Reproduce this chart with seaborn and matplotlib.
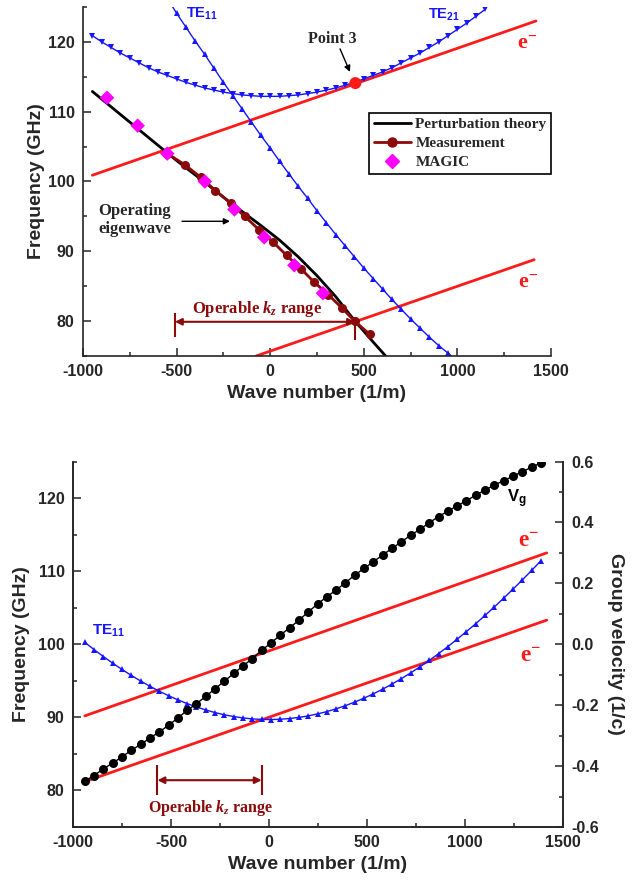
import seaborn as sns
import matplotlib.pyplot as plt
import pandas as pd
import numpy as np
from matplotlib.lines import Line2D
from matplotlib.ticker import AutoMinorLocator, MultipleLocator

# ---------------- top panel data ----------------
te11_top_k = [-530, -500, -450, -400, -350, -300, -250, -200, -150, -100, -50, 0,
              50, 100, 150, 200, 250, 300, 350, 400, 450, 500, 550, 600, 650, 700,
              750, 800, 850, 900, 950, 1000]
te11_top_f = [125.4, 124.1, 122.1, 120.1, 118.2, 116.2, 114.2, 112.3, 110.4, 108.5,
              106.6, 104.8, 102.9, 101.1, 99.3, 97.6, 95.8, 94.1, 92.4, 90.8, 89.2,
              87.6, 86.1, 84.6, 83.1, 81.7, 80.3, 79.0, 77.7, 76.5, 75.4, 74.3]

te21_k = [-950, -900, -850, -800, -750, -700, -650, -600, -550, -500, -450, -400,
          -350, -300, -250, -200, -150, -100, -50, 0, 50, 100, 150, 200, 250, 300,
          350, 400, 450, 500, 550, 600, 650, 700, 750, 800, 850, 900, 950, 1000,
          1050, 1100, 1150]
te21_f = [120.9, 120.0, 119.2, 118.4, 117.7, 117.0, 116.3, 115.7, 115.2, 114.7,
          114.2, 113.8, 113.4, 113.1, 112.8, 112.6, 112.4, 112.3, 112.2, 112.2,
          112.2, 112.3, 112.4, 112.6, 112.8, 113.1, 113.4, 113.8, 114.2, 114.7,
          115.2, 115.7, 116.3, 117.0, 117.7, 118.4, 119.2, 120.0, 120.9, 121.8,
          122.7, 123.7, 124.7]

pert_k = [-950, -800, -650, -500, -350, -200, -50, 50, 150, 250, 350, 450, 550, 650]
pert_f = [112.9, 109.6, 106.3, 103.0, 99.9, 96.7, 93.7, 91.6, 89.2, 86.5, 83.5,
          80.1, 77.0, 74.0]

meas_k = [-550, -456, -371, -293, -212, -136, -60, 16, 88, 164, 234, 310, 382, 451, 532]
meas_f = [104.0, 102.4, 100.6, 98.7, 96.9, 95.0, 93.1, 91.3, 89.4, 87.5, 85.6,
          83.8, 81.9, 80.0, 78.1]

magic_k = [-872, -708, -550, -349, -191, -32, 129, 282]
magic_f = [112, 108, 104, 100, 96, 92, 88, 84]

beam_hi_top_k = [-950, 1420]
beam_hi_top_f = [100.9, 123.0]
beam_lo_top_k = [-75, 1410]
beam_lo_top_f = [75.0, 88.8]

point3_k = [455]
point3_f = [114.1]

# ---------------- bottom panel data ----------------
kb = [-940, -892.5, -845, -797.5, -750, -702.5, -655, -607.5, -560, -512.5,
      -465, -417.5, -370, -322.5, -275, -227.5, -180, -132.5, -85, -37.5,
      10, 57.5, 105, 152.5, 200, 247.5, 295, 342.5, 390, 437.5,
      485, 532.5, 580, 627.5, 675, 722.5, 770, 817.5, 865, 912.5,
      960, 1007.5, 1055, 1102.5, 1150, 1197.5, 1245, 1292.5, 1340, 1387.5]
vg = [-0.449, -0.431, -0.409, -0.390, -0.370, -0.348, -0.329, -0.308, -0.288, -0.266,
      -0.242, -0.217, -0.195, -0.171, -0.146, -0.121, -0.096, -0.071, -0.047, -0.020,
      0.004, 0.030, 0.054, 0.079, 0.106, 0.132, 0.156, 0.178, 0.202, 0.227,
      0.249, 0.271, 0.293, 0.315, 0.336, 0.358, 0.377, 0.399, 0.419, 0.437,
      0.455, 0.471, 0.490, 0.506, 0.523, 0.537, 0.552, 0.567, 0.581, 0.596]
te11_bot_f = [100.26, 99.27, 98.32, 97.41, 96.55, 95.74, 94.97, 94.25, 93.58, 92.96,
              92.40, 91.88, 91.42, 91.01, 90.65, 90.35, 90.11, 89.92, 89.79, 89.72,
              89.70, 89.74, 89.84, 89.99, 90.20, 90.47, 90.79, 91.17, 91.60, 92.09,
              92.63, 93.22, 93.86, 94.55, 95.29, 96.08, 96.91, 97.79, 98.71, 99.68,
              100.69, 101.74, 102.82, 103.95, 105.11, 106.31, 107.54, 108.80, 110.10, 111.43]

beam_hi_bot_k = [-940, 1417]
beam_hi_bot_f = [90.2, 112.5]
beam_lo_bot_k = [-940, 1417]
beam_lo_bot_f = [81.2, 103.3]

# ---------------- style ----------------
sns.set_style('ticks')
plt.rcParams['font.family'] = ['Liberation Sans', 'DejaVu Sans']
plt.rcParams['font.weight'] = 'bold'
plt.rcParams['axes.labelweight'] = 'bold'
plt.rcParams['axes.unicode_minus'] = False
plt.rcParams['mathtext.fontset'] = 'custom'
plt.rcParams['mathtext.it'] = 'Liberation Serif:italic:bold'
plt.rcParams['mathtext.default'] = 'regular'
plt.rcParams['xtick.direction'] = 'in'
plt.rcParams['ytick.direction'] = 'in'

BLUE = '#1515ff'
RED = '#ff1a1a'
MAROON = '#8b0a0a'
MAGENTA = '#ff00ff'
SERIF = 'Liberation Serif'

fig = plt.figure(figsize=(6.41, 8.86), dpi=100)
ax = fig.add_axes([0.1295, 0.5982, 0.7301, 0.3939])
axb = fig.add_axes([0.1139, 0.0666, 0.7644, 0.4125])


def line(ax, k, f, color, lw=1.0, marker=None, ms=0):
    sns.lineplot(x=k, y=f, ax=ax, color=color, linewidth=lw, marker=marker,
                 markersize=ms, markeredgecolor=color, markeredgewidth=0,
                 sort=False, estimator=None)


def style_axis(a):
    a.tick_params(axis='both', which='major', length=6, width=1.1, labelsize=11.5, pad=6)
    a.tick_params(axis='both', which='minor', length=3, width=1.1)
    for s in a.spines.values():
        s.set_linewidth(1.2)
    a.spines['top'].set_visible(False)


# ---------------- top panel ----------------
line(ax, beam_hi_top_k, beam_hi_top_f, RED, lw=2.0)
line(ax, beam_lo_top_k, beam_lo_top_f, RED, lw=2.0)
line(ax, te11_top_k, te11_top_f, BLUE, marker='^', ms=4)
line(ax, te21_k, te21_f, BLUE, marker='v', ms=4)
line(ax, pert_k, pert_f, 'black', lw=2.0)
line(ax, meas_k, meas_f, MAROON, lw=2.0, marker='o', ms=6.5)
sns.scatterplot(x=magic_k, y=magic_f, ax=ax, marker='D', s=55, color=MAGENTA,
                edgecolor='none', zorder=4)
sns.scatterplot(x=point3_k, y=point3_f, ax=ax, marker='o', s=75, color=RED,
                edgecolor='none', zorder=5)

ax.set_xlim(-1000, 1500)
ax.set_ylim(75, 125)
ax.xaxis.set_major_locator(MultipleLocator(500))
ax.xaxis.set_minor_locator(AutoMinorLocator(2))
ax.yaxis.set_major_locator(MultipleLocator(10))
ax.yaxis.set_minor_locator(AutoMinorLocator(2))
style_axis(ax)
ax.spines['right'].set_visible(False)
ax.set_xlabel('Wave number (1/m)', fontsize=14)
ax.set_ylabel('Frequency (GHz)', fontsize=14, labelpad=2)

handles = [Line2D([], [], color='black', lw=2),
           Line2D([], [], color=MAROON, lw=2, marker='o', ms=6.5, mec=MAROON),
           Line2D([], [], color=MAGENTA, lw=0, marker='D', ms=7, mec=MAGENTA)]
leg = ax.legend(handles, ['Perturbation theory', 'Measurement', 'MAGIC'],
                loc='upper right', bbox_to_anchor=(1.0, 0.696), borderaxespad=0,
                fancybox=False, framealpha=1, edgecolor='black', handlelength=2.4,
                handletextpad=0.3, borderpad=0.3, labelspacing=0.35,
                prop={'family': SERIF, 'weight': 'bold', 'size': 11})
leg.get_frame().set_linewidth(1.2)

ax.text(-364, 124, 'TE$_{11}$', color=BLUE, fontsize=10.5, ha='center', va='center')
ax.text(929, 123.9, 'TE$_{21}$', color=BLUE, fontsize=10.5, ha='center', va='center')
ax.text(1372, 119.8, 'e$^{-}$', color=RED, fontsize=16, family=SERIF, ha='center', va='center')
ax.text(1376, 85.5, 'e$^{-}$', color=RED, fontsize=16, family=SERIF, ha='center', va='center')
ax.text(330, 120.4, 'Point 3', fontsize=11.5, family=SERIF, ha='center', va='center')
ax.annotate('', xy=(426, 115.7), xytext=(373, 119.0),
            arrowprops=dict(arrowstyle='-|>', color='black', lw=1, shrinkA=0, shrinkB=0,
                            mutation_scale=9))
ax.text(-920, 94.5, 'Operating\neigenwave', fontsize=12, family=SERIF,
        ha='left', va='center', linespacing=1.2)
ax.annotate('', xy=(-215, 94.3), xytext=(-471, 94.3),
            arrowprops=dict(arrowstyle='-|>', color='black', lw=1, shrinkA=0, shrinkB=0,
                            mutation_scale=9))
ax.annotate('', xy=(-509, 79.9), xytext=(453, 79.9),
            arrowprops=dict(arrowstyle='<|-|>', color=MAROON, lw=1.5, shrinkA=0, shrinkB=0,
                            mutation_scale=10))
ax.vlines([-509], 77.7, 81.2, color=MAROON, lw=1.5)
ax.vlines([453], 77.3, 80.0, color=MAROON, lw=1.5)
ax.text(-70, 81.7, 'Operable $\\mathit{k_z}$ range', color=MAROON, fontsize=12,
        family=SERIF, ha='center', va='center')

# ---------------- bottom panel ----------------
ax2 = axb.twinx()
line(axb, beam_hi_bot_k, beam_hi_bot_f, RED, lw=2.0)
line(axb, beam_lo_bot_k, beam_lo_bot_f, RED, lw=2.0)
line(axb, kb, te11_bot_f, BLUE, marker='^', ms=4)
line(ax2, kb, vg, 'black', lw=1.0, marker='o', ms=6.5)

axb.set_xlim(-1000, 1500)
axb.set_ylim(75, 125)
ax2.set_ylim(-0.6, 0.6)
axb.xaxis.set_major_locator(MultipleLocator(500))
axb.xaxis.set_minor_locator(AutoMinorLocator(2))
axb.yaxis.set_major_locator(MultipleLocator(10))
axb.yaxis.set_minor_locator(AutoMinorLocator(2))
ax2.yaxis.set_major_locator(MultipleLocator(0.2))
ax2.yaxis.set_minor_locator(AutoMinorLocator(2))
style_axis(axb)
style_axis(ax2)
axb.set_xlabel('Wave number (1/m)', fontsize=14)
axb.set_ylabel('Frequency (GHz)', fontsize=14, labelpad=6)
ax2.set_ylabel('Group velocity (1/c)', fontsize=14, rotation=270, labelpad=18)

axb.text(-819, 101.9, 'TE$_{11}$', color=BLUE, fontsize=11, ha='center', va='center')
axb.text(1265, 119.9, 'V$_{g}$', color='black', fontsize=12, ha='center', va='center')
axb.text(1327, 114.2, 'e$^{-}$', color=RED, fontsize=17, family=SERIF, ha='center', va='center')
axb.text(1337, 98.5, 'e$^{-}$', color=RED, fontsize=17, family=SERIF, ha='center', va='center')
axb.annotate('', xy=(-569, 81.4), xytext=(-37.5, 81.4),
             arrowprops=dict(arrowstyle='<|-|>', color=MAROON, lw=1.5, shrinkA=0, shrinkB=0,
                             mutation_scale=10))
axb.vlines([-569, -37.5], 79.4, 83.5, color=MAROON, lw=1.5)
axb.text(-298, 77.6, 'Operable $\\mathit{k_z}$ range', color=MAROON, fontsize=11.5,
         family=SERIF, ha='center', va='center')

fig.savefig('out.png', dpi=100)
